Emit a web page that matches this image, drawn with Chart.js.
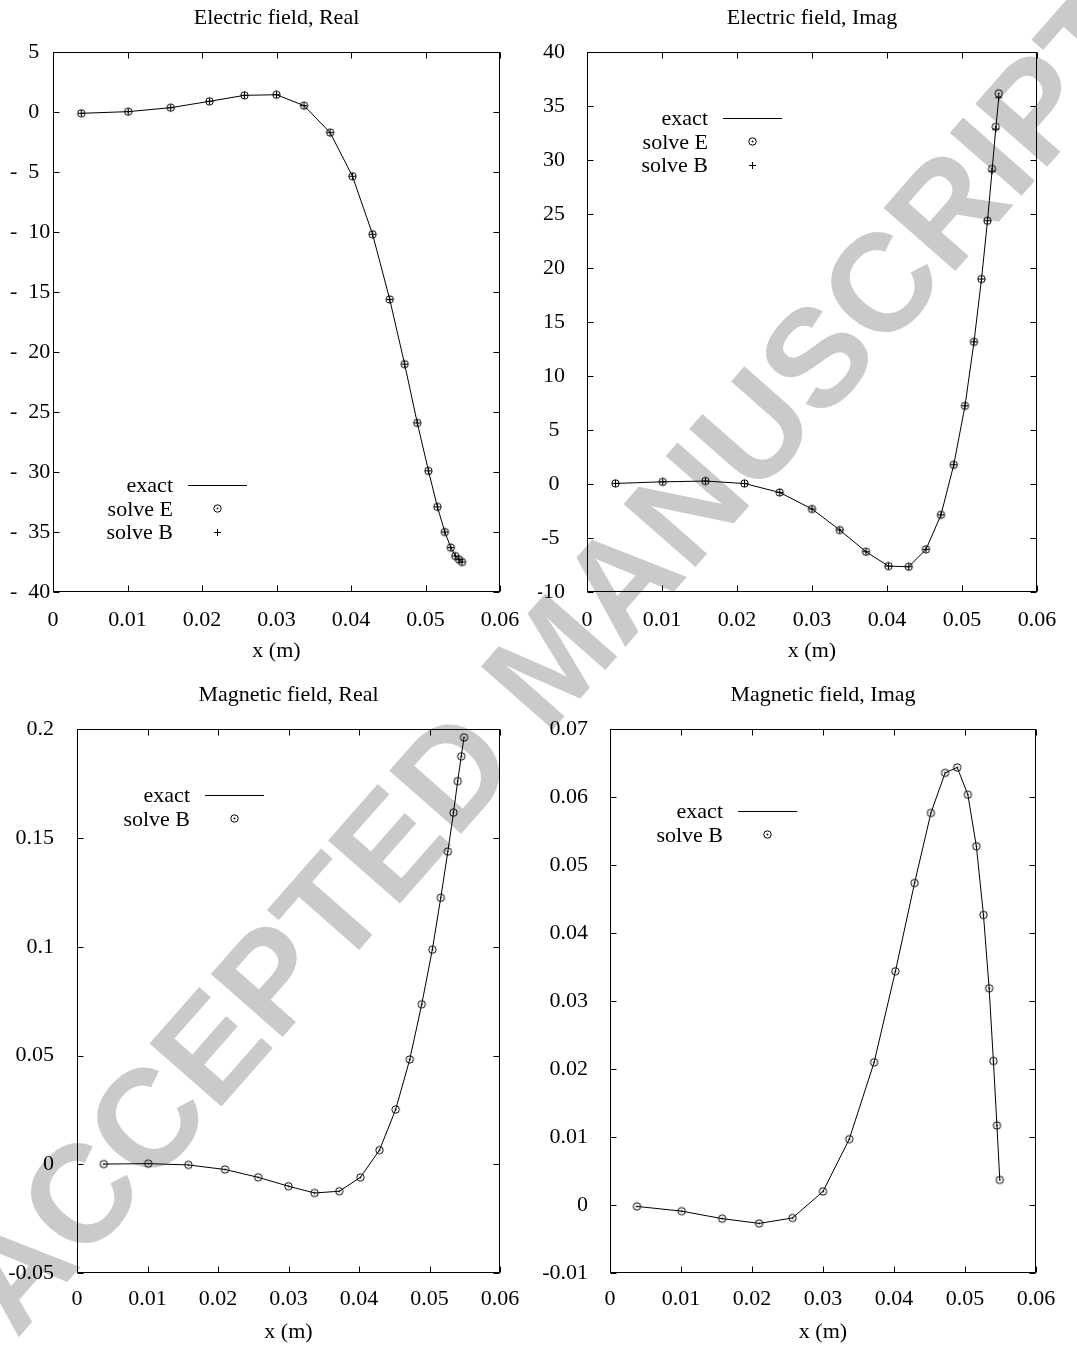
<!DOCTYPE html>
<html>
<head>
<meta charset="utf-8">
<script src="https://cdn.jsdelivr.net/npm/chart.js@4.4.0/dist/chart.umd.min.js"></script>
<style>
  html, body { margin: 0; padding: 0; background: #fff; }
  #page { position: relative; width: 1077px; height: 1346px; overflow: hidden; }
  .panel { position: absolute; z-index: 1; }
  #mark {
    position: absolute; left: 551px; top: 658px; z-index: 0;
    transform: translate(-50%, -50%) rotate(-48.7deg);
    font: bold 139px "Liberation Sans", Arial, sans-serif;
    line-height: 1; white-space: nowrap; color: #c9cacc;
  }
</style>
</head>
<body>
<div id="page">
  <div id="mark">ACCEPTED MANUSCRIPT</div>
  <canvas id="eRealChart" class="panel" width="538" height="673" style="left:0;top:0"></canvas>
  <canvas id="eImagChart" class="panel" width="539" height="673" style="left:538px;top:0"></canvas>
  <canvas id="bRealChart" class="panel" width="538" height="673" style="left:0;top:673px"></canvas>
  <canvas id="bImagChart" class="panel" width="539" height="673" style="left:538px;top:673px"></canvas>
</div>
<script>
// sample positions along x (m), shared by all four panels
const xPos = [0.0038, 0.0101, 0.0158, 0.0210, 0.0257, 0.0300, 0.0337, 0.0372, 0.0402, 0.0429,
              0.0452, 0.0472, 0.0489, 0.0504, 0.0516, 0.0526, 0.0534, 0.0540, 0.0545, 0.0549];

// electric field, real part (exact and solve E / solve B overlap)
const eReal = [-0.08, 0.06, 0.39, 0.92, 1.42, 1.47, 0.56, -1.69, -5.33, -10.17,
               -15.6, -21.0, -25.9, -29.9, -32.9, -35.0, -36.3, -37.0, -37.3, -37.5];

// electric field, imaginary part
const eImag  = [0.06, 0.21, 0.28, 0.05, -0.78, -2.31, -4.26, -6.27, -7.60, -7.66,
                -6.05, -2.85, 1.79, 7.25, 13.18, 19.0, 24.4, 29.2, 33.1, 36.2];
const eImagB = [0.06, 0.21, 0.28, 0.05, -0.78, -2.31, -4.26, -6.27, -7.60, -7.66,
                -6.05, -2.85, 1.79, 7.25, 13.18, 19.0, 24.4, 29.0, 32.9, 35.8];

// magnetic field, real and imaginary part
const bReal = [0.0001, 0.0003, -0.0003, -0.0024, -0.0060, -0.0101, -0.0132, -0.0124, -0.0060, 0.0065,
               0.0252, 0.0482, 0.0736, 0.0987, 0.1226, 0.1438, 0.1617, 0.1762, 0.1876, 0.1963];
const bImag = [-0.0002, -0.0009, -0.0020, -0.0027, -0.0019, 0.0020, 0.0097, 0.0210, 0.0344, 0.0474,
               0.0577, 0.0636, 0.0644, 0.0604, 0.0528, 0.0427, 0.0319, 0.0212, 0.0117, 0.0037];

// axis ranges [min, max, step]
const xRange     = [0, 0.06, 0.01];
const eRealRange = [-40, 5, 5];
const eImagRange = [-10, 40, 5];
const bRealRange = [-0.05, 0.2, 0.05];
const bImagRange = [-0.01, 0.07, 0.01];

const FONT = '"Liberation Serif", "Times New Roman", serif';
const fmt = v => String(parseFloat(v.toFixed(6)));
const pts = ys => xPos.map((x, i) => ({ x: x, y: ys[i] }));

// gnuplot style open circle with a centre dot
const dotCircle = document.createElement('canvas');
dotCircle.width = 11; dotCircle.height = 11;
(() => {
    const g = dotCircle.getContext('2d');
    g.strokeStyle = '#000'; g.lineWidth = 1;
    g.beginPath(); g.arc(5.5, 5.5, 3.7, 0, 2 * Math.PI); g.stroke();
    g.fillStyle = '#000';
    g.beginPath(); g.arc(5.5, 5.5, 0.9, 0, 2 * Math.PI); g.fill();
})();

// frame, inward ticks and the in-plot key
const gnuFrame = {
    id: 'gnuFrame',
    afterDatasetsDraw(chart, args, opts) {
        const { ctx, chartArea: a, scales: { x, y } } = chart;
        const L = Math.round(a.left) + 0.5, R = Math.round(a.right) - 0.5;
        const T = Math.round(a.top) + 0.5, B = Math.round(a.bottom) - 0.5;
        ctx.save();
        ctx.strokeStyle = '#000';
        ctx.lineWidth = 1;
        ctx.strokeRect(L, T, R - L, B - T);
        ctx.beginPath();
        x.ticks.forEach(t => {
            const px = Math.round(x.getPixelForValue(t.value)) + 0.5;
            ctx.moveTo(px, B); ctx.lineTo(px, B - 6);
            ctx.moveTo(px, T); ctx.lineTo(px, T + 6);
        });
        y.ticks.forEach(t => {
            const py = Math.round(y.getPixelForValue(t.value)) + 0.5;
            ctx.moveTo(L, py); ctx.lineTo(L + 6, py);
            ctx.moveTo(R, py); ctx.lineTo(R - 6, py);
        });
        ctx.stroke();

        // key
        ctx.font = '22px ' + FONT;
        ctx.fillStyle = '#000';
        ctx.textAlign = 'right';
        ctx.textBaseline = 'middle';
        const tx = a.left + opts.keyX;
        opts.items.forEach((it, i) => {
            const ty = a.top + opts.keyY + i * 23.5;
            ctx.fillText(it.label, tx, ty + 1);
            if (it.kind === 'line') {
                ctx.beginPath();
                ctx.moveTo(tx + 15, Math.round(ty) + 0.5);
                ctx.lineTo(tx + 74, Math.round(ty) + 0.5);
                ctx.stroke();
            } else if (it.kind === 'circle') {
                ctx.drawImage(dotCircle, Math.round(tx + 44 - 5.5), Math.round(ty - 5.5));
            } else {
                const cx = Math.round(tx + 44) + 0.5, cy = Math.round(ty) + 0.5;
                ctx.beginPath();
                ctx.moveTo(cx - 3.5, cy); ctx.lineTo(cx + 3.5, cy);
                ctx.moveTo(cx, cy - 3.5); ctx.lineTo(cx, cy + 3.5);
                ctx.stroke();
            }
        });
        ctx.restore();
    }
};

const exactSet = ys => ({
    label: 'exact', data: pts(ys), showLine: true, borderColor: '#000',
    borderWidth: 1, pointRadius: 0, tension: 0, order: 3
});
const circleSet = (label, ys) => ({
    label: label, data: pts(ys), showLine: false, pointStyle: dotCircle,
    pointRadius: 4, order: 2
});
const crossSet = (label, ys) => ({
    label: label, data: pts(ys), showLine: false, pointStyle: 'cross',
    pointRadius: 3.5, borderWidth: 1, borderColor: '#000', order: 1
});

function makeChart(id, cfg) {
    const [ymin, ymax, ystep] = cfg.yRange;
    new Chart(document.getElementById(id), {
        type: 'scatter',
        data: { datasets: cfg.datasets },
        options: {
            responsive: false,
            animation: false,
            devicePixelRatio: 1,
            layout: { padding: cfg.padding },
            plugins: {
                legend: { display: false },
                tooltip: { enabled: false },
                title: {
                    display: true, text: cfg.title, color: '#000', fullSize: false,
                    font: { family: FONT, size: 22, weight: 'normal' },
                    padding: cfg.titlePad
                },
                gnuFrame: { keyX: cfg.keyX, keyY: cfg.keyY, items: cfg.key }
            },
            scales: {
                x: {
                    type: 'linear', min: xRange[0], max: xRange[1],
                    grid: { display: false }, border: { display: false },
                    ticks: {
                        stepSize: xRange[2], color: '#000', padding: cfg.xTickPad,
                        maxRotation: 0, autoSkip: false,
                        font: { family: FONT, size: 22 },
                        callback: v => fmt(v)
                    },
                    title: {
                        display: true, text: 'x (m)', color: '#000',
                        font: { family: FONT, size: 22, weight: 'normal' },
                        padding: { top: 0, bottom: cfg.xTitlePad }
                    },
                    afterFit: s => { s.height = cfg.xHeight; }
                },
                y: {
                    type: 'linear', min: ymin, max: ymax,
                    grid: { display: false }, border: { display: false },
                    ticks: {
                        stepSize: ystep, color: '#000', padding: cfg.yTickPad,
                        crossAlign: cfg.crossAlign || 'near', autoSkip: false,
                        font: { family: FONT, size: 22 },
                        callback: cfg.yLabel || (v => fmt(v))
                    },
                    afterFit: s => { s.width = cfg.yWidth; }
                }
            }
        },
        plugins: [gnuFrame]
    });
}

makeChart('eRealChart', {
    title: 'Electric field, Real',
    yRange: eRealRange,
    datasets: [exactSet(eReal), circleSet('solve E', eReal), crossSet('solve B', eReal)],
    padding: { left: 10, right: 38, top: 0, bottom: 0 },
    titlePad: { top: 5, bottom: 21 },
    yWidth: 43, yTickPad: 0, crossAlign: 'far',
    yLabel: v => v < 0 ? '-\u2002' + fmt(-v) : '\u2004\u2002' + fmt(v),
    xHeight: 81, xTickPad: 7, xTitlePad: 9,
    keyX: 120, keyY: 433,
    key: [{ label: 'exact', kind: 'line' }, { label: 'solve E', kind: 'circle' }, { label: 'solve B', kind: 'cross' }]
});

makeChart('eImagChart', {
    title: 'Electric field, Imag',
    yRange: eImagRange,
    datasets: [exactSet(eImagB), circleSet('solve E', eImag), crossSet('solve B', eImagB)],
    padding: { left: 0, right: 40, top: 0, bottom: 0 },
    titlePad: { top: 5, bottom: 21 },
    yWidth: 49, yTickPad: 14,
    yLabel: v => Math.abs(v) < 10 ? fmt(v) + '\u2005' : fmt(v),
    xHeight: 81, xTickPad: 7, xTitlePad: 9,
    keyX: 121, keyY: 66,
    key: [{ label: 'exact', kind: 'line' }, { label: 'solve E', kind: 'circle' }, { label: 'solve B', kind: 'cross' }]
});

makeChart('bRealChart', {
    title: 'Magnetic field, Real',
    yRange: bRealRange,
    datasets: [exactSet(bReal), circleSet('solve B', bReal)],
    padding: { left: 0, right: 38, top: 0, bottom: 0 },
    titlePad: { top: 9, bottom: 21 },
    yWidth: 77, yTickPad: 15,
    xHeight: 73, xTickPad: 5, xTitlePad: 1,
    keyX: 113, keyY: 66,
    key: [{ label: 'exact', kind: 'line' }, { label: 'solve B', kind: 'circle' }]
});

makeChart('bImagChart', {
    title: 'Magnetic field, Imag',
    yRange: bImagRange,
    datasets: [exactSet(bImag), circleSet('solve B', bImag)],
    padding: { left: 0, right: 41, top: 0, bottom: 0 },
    titlePad: { top: 9, bottom: 21 },
    yWidth: 72, yTickPad: 14,
    xHeight: 73, xTickPad: 5, xTitlePad: 1,
    keyX: 113, keyY: 82,
    key: [{ label: 'exact', kind: 'line' }, { label: 'solve B', kind: 'circle' }]
});
</script>
</body>
</html>
